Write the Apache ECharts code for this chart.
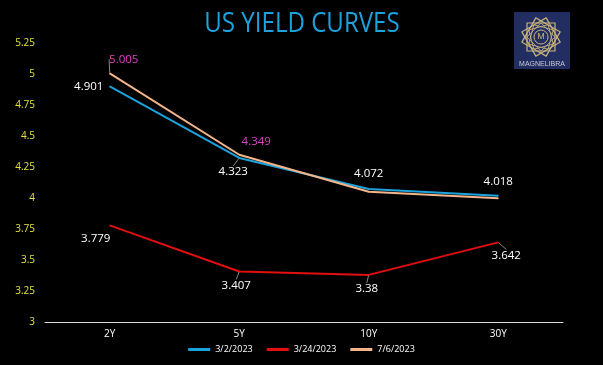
<!DOCTYPE html>
<html><head><meta charset="utf-8">
<script src="https://cdn.jsdelivr.net/npm/echarts@6/dist/echarts.min.js"></script>
<style>html,body{margin:0;padding:0;background:#000;}#c{width:603px;height:365px;}</style>
</head><body><div id="c"></div>
<script>
const categories = ['2Y', '5Y', '10Y', '30Y'];
const seriesNames = ['3/2/2023', '3/24/2023', '7/6/2023'];
const s1 = [4.901, 4.323, 4.072, 4.018];
const s2 = [3.779, 3.407, 3.38, 3.642];
const s3 = [5.005, 4.349, 4.05, 3.998];
const yTicks = [3, 3.25, 3.5, 3.75, 4, 4.25, 4.5, 4.75, 5, 5.25];

// label offsets (dx, dy) from each point, and whether a leader line is drawn
const offsets = [
  [[-21, 0], [-6, 14], [0, -15], [0, -14]],
  [[-14, 13], [-3, 14], [-2, 14], [8, 13]],
  [[14, -14], [17, -13], null, null]
];
const leaders = [
  [false, true, false, false],
  [false, true, true, true],
  [true, false, false, false]
];
const colors = ['#1ba3de', '#e30e0e', '#f5b58a'];
const labelColors = ['#ffffff', '#ffffff', '#e040c8'];

function mk(i, vals) {
  return {
    name: seriesNames[i], type: 'line', data: vals.map((v, j) => ({
      value: v,
      label: { show: offsets[i][j] !== null },
      labelLine: { show: leaders[i][j] }
    })),
    symbol: 'circle', symbolSize: 1, showSymbol: true,
    lineStyle: { color: colors[i], width: 2 },
    itemStyle: { color: colors[i] },
    label: { position: 'inside', color: labelColors[i], fontSize: 11.5, fontFamily: 'Open Sans' },
    labelLine: { lineStyle: { color: '#888', width: 1 } },
    labelLayout: function (p) {
      const o = offsets[i][p.dataIndex];
      return o ? { dx: o[0], dy: o[1] } : {};
    },
    emphasis: { disabled: true }, animation: false
  };
}

const chart = echarts.init(document.getElementById('c'));
const star = [];
for (let k = 0; k < 3; k++) {
  star.push({ type: 'rect', shape: { x: -14, y: -14, width: 28, height: 28 }, x: 541, y: 37, rotation: k * Math.PI / 6,
    style: { fill: null, stroke: '#c9b47c', lineWidth: 1.2 } });
  star.push({ type: 'rect', shape: { x: -10, y: -10, width: 20, height: 20 }, x: 541, y: 37, rotation: k * Math.PI / 6 + Math.PI / 12,
    style: { fill: null, stroke: '#c9b47c', lineWidth: 0.8 } });
}
chart.setOption({
  backgroundColor: '#000',
  legend: { bottom: 6, left: 'center', icon: 'rect', itemWidth: 22, itemHeight: 3, itemGap: 14,
    textStyle: { color: '#fff', fontSize: 9, fontFamily: 'Open Sans' }, data: seriesNames },
  grid: { left: 45, right: 40, top: 43, bottom: 43 },
  xAxis: { type: 'category', data: categories, boundaryGap: true,
    axisLine: { lineStyle: { color: '#d9d9d9', width: 1 } },
    axisTick: { show: false },
    axisLabel: { color: '#fff', fontSize: 10, fontFamily: 'Open Sans', margin: 7 } },
  yAxis: { type: 'value', min: yTicks[0], max: yTicks[yTicks.length - 1], interval: 0.25,
    splitLine: { show: false }, axisLine: { show: false }, axisTick: { show: false },
    axisLabel: { color: '#e2e23c', fontSize: 10, fontFamily: 'Open Sans', margin: 10 } },
  series: [mk(0, s1), mk(1, s2), mk(2, s3)],
  graphic: [
    { type: 'text', x: 302, y: 24, scaleX: 0.86, style: { text: 'US YIELD CURVES', fill: '#1ba3de', fontSize: 28, fontFamily: 'Open Sans', align: 'center', verticalAlign: 'middle' } },
    { type: 'rect', shape: { x: 514, y: 12, width: 56, height: 57 }, style: { fill: '#222d62' } },
    ...star,
    { type: 'circle', shape: { cx: 541, cy: 37, r: 7 }, style: { fill: '#222d62', stroke: '#c9b47c', lineWidth: 1 } },
    { type: 'text', x: 541, y: 37, style: { text: 'M', fill: '#c9b47c', fontSize: 9, align: 'center', verticalAlign: 'middle', fontFamily: 'Liberation Sans' } },
    { type: 'text', x: 542, y: 64, style: { text: 'MAGNELIBRA', fill: '#c9c9d6', fontSize: 7, align: 'center', verticalAlign: 'middle', fontFamily: 'Liberation Sans' } }
  ]
});
</script></body></html>
